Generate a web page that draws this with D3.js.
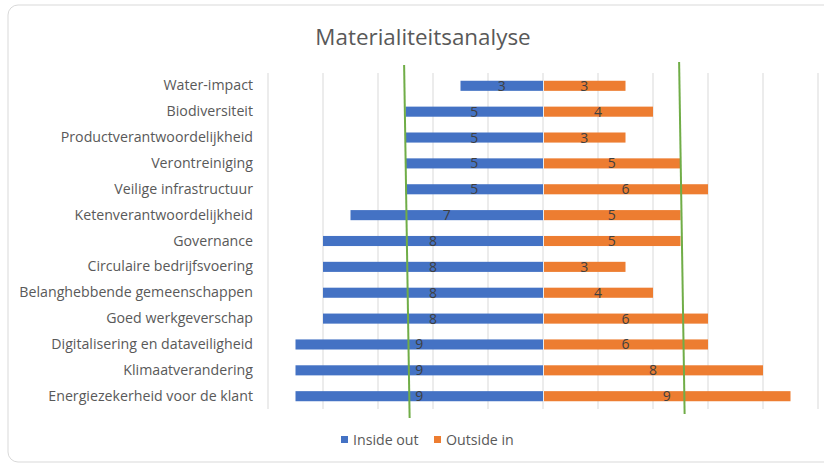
<!DOCTYPE html>
<html><head><meta charset="utf-8">
<script src="https://cdn.jsdelivr.net/npm/d3@7"></script>
<style>
html,body{margin:0;padding:0;background:#fff;}
svg{display:block;font-family:"Open Sans","Liberation Sans",sans-serif;}
</style></head>
<body><svg id="c" width="824" height="466"></svg>
<script>
const categories = ["Water-impact","Biodiversiteit","Productverantwoordelijkheid","Verontreiniging","Veilige infrastructuur","Ketenverantwoordelijkheid","Governance","Circulaire bedrijfsvoering","Belanghebbende gemeenschappen","Goed werkgeverschap","Digitalisering en dataveiligheid","Klimaatverandering","Energiezekerheid voor de klant"];
const insideOut = [3,5,5,5,5,7,8,8,8,8,9,9,9];
const outsideIn = [3,4,3,5,6,5,5,3,4,6,6,8,9];
const seriesNames = ["Inside out","Outside in"];
const colors = ["#4472C4","#ED7D31"];
const xTicks = [-10,-8,-6,-4,-2,0,2,4,6,8,10];
// threshold lines: [value at top, value at bottom]
const thresholdLeft = [-5.05, -4.85];
const thresholdRight = [4.95, 5.15];

const svg = d3.select("#c");
svg.append("rect").attr("x",8).attr("y",5).attr("width",830).attr("height",457)
  .attr("rx",10).attr("fill","#fff").attr("stroke","#d9d9d9").attr("stroke-width",1);

svg.append("text").attr("x",423).attr("y",45).attr("text-anchor","middle")
  .attr("font-size",22.4).attr("fill","#595959").text("Materialiteitsanalyse");

const x = d3.scaleLinear().domain([-10,10]).range([268,818]);
const y = d3.scaleBand().domain(categories).range([73,409]).paddingInner(0.61).paddingOuter(0.3);

svg.append("g").selectAll("line").data(xTicks).join("line")
  .attr("x1",d=>x(d)).attr("x2",d=>x(d)).attr("y1",73).attr("y2",409)
  .attr("stroke","#d9d9d9").attr("stroke-width",1);

svg.append("g").selectAll("rect").data(categories).join("rect")
  .attr("x",(d,i)=>x(-insideOut[i])).attr("width",(d,i)=>x(0)-x(-insideOut[i]))
  .attr("y",d=>y(d)).attr("height",y.bandwidth()).attr("fill",colors[0]);
svg.append("g").selectAll("rect").data(categories).join("rect")
  .attr("x",x(0)+1).attr("width",(d,i)=>x(outsideIn[i])-x(0)-1)
  .attr("y",d=>y(d)).attr("height",y.bandwidth()).attr("fill",colors[1]);

const lbl = svg.append("g").attr("font-size",14).attr("fill","#404040").attr("text-anchor","middle");
lbl.selectAll(".li").data(categories).join("text")
  .attr("x",(d,i)=>(x(-insideOut[i])+x(0))/2).attr("y",d=>y(d)+y.bandwidth()/2+5).text((d,i)=>insideOut[i]);
lbl.selectAll(".lo").data(categories).join("text")
  .attr("x",(d,i)=>(x(outsideIn[i])+x(0))/2).attr("y",d=>y(d)+y.bandwidth()/2+5).text((d,i)=>outsideIn[i]);

const yAxis = d3.axisLeft(y).tickSize(0).tickPadding(15);
const ga = svg.append("g").attr("transform",`translate(${x(-10)},0)`).call(yAxis);
ga.select(".domain").remove();
ga.selectAll("text").attr("font-size",14.2).attr("fill","#595959").attr("font-family",'"Open Sans",sans-serif');

const th = svg.append("g").attr("stroke","#70AD47").attr("stroke-width",2);
th.append("line").attr("x1",x(thresholdLeft[0])).attr("y1",65).attr("x2",x(thresholdLeft[1])).attr("y2",418);
th.append("line").attr("x1",x(thresholdRight[0])).attr("y1",62).attr("x2",x(thresholdRight[1])).attr("y2",414);

const leg = svg.append("g").attr("font-size",14.2).attr("fill","#595959");
const lx = [341,434];
seriesNames.forEach((s,i)=>{
  leg.append("rect").attr("x",lx[i]).attr("y",436).attr("width",7).attr("height",7).attr("fill",colors[i]);
  leg.append("text").attr("x",lx[i]+12).attr("y",445).attr("font-family",'"Open Sans",sans-serif').text(s);
});
</script></body></html>
